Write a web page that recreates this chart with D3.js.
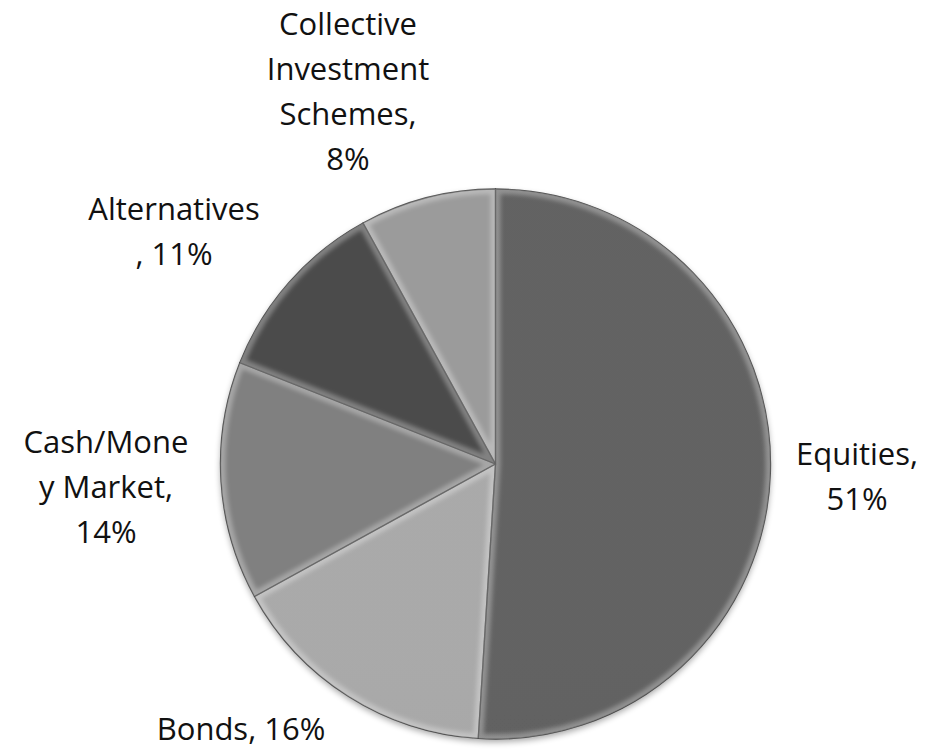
<!DOCTYPE html>
<html>
<head>
<meta charset="utf-8">
<script src="https://cdn.jsdelivr.net/npm/d3@7"></script>
<style>
  html, body { margin: 0; padding: 0; background: #fff; }
  svg { display: block; }
  .lbl { font-family: "Open Sans", "Noto Sans", sans-serif; font-size: 31px; fill: #111; }
</style>
</head>
<body>
<div id="chart"></div>
<script>
// data
const categories = ["Equities", "Bonds", "Cash/Money Market", "Alternatives", "Collective Investment Schemes"];
const shares = [51, 16, 14, 11, 8];
const labelLines = [
  ["Equities,", "51%"],
  ["Bonds, 16%"],
  ["Cash/Mone", "y Market,", "14%"],
  ["Alternatives", ", 11%"],
  ["Collective", "Investment", "Schemes,", "8%"]
];

// layout
const W = 934, H = 752;
const cx = 495.5, cy = 464, r = 275;
const sliceColors = ["#5c5c5c", "#a6a6a6", "#7b7b7b", "#454545", "#979797"];
// label block anchor: [center x, first baseline]
const labelAnchor = [[857, 465], [241, 740], [106, 453], [174, 220], [348, 35]];
const lineH = 45;

const svg = d3.select("#chart").append("svg")
  .attr("width", W)
  .attr("height", H);

const defs = svg.append("defs");

// soft shadow under the pie
const shadow = defs.append("filter").attr("id", "shadow")
  .attr("x", "-10%").attr("y", "-10%").attr("width", "120%").attr("height", "125%");
shadow.append("feGaussianBlur").attr("in", "SourceAlpha").attr("stdDeviation", 3);
shadow.append("feOffset").attr("dx", 0).attr("dy", 3).attr("result", "off");
shadow.append("feComponentTransfer").append("feFuncA").attr("type", "linear").attr("slope", 0.35);
const merge = shadow.append("feMerge");
merge.append("feMergeNode");
merge.append("feMergeNode").attr("in", "SourceGraphic");

const blur = defs.append("filter").attr("id", "blur")
  .attr("x", "-5%").attr("y", "-5%").attr("width", "110%").attr("height", "110%");
blur.append("feGaussianBlur").attr("stdDeviation", 2.2);

// light top to darker bottom over the whole pie
const shade = defs.append("linearGradient").attr("id", "shade")
  .attr("gradientUnits", "userSpaceOnUse")
  .attr("x1", 0).attr("y1", cy - r).attr("x2", 0).attr("y2", cy + r);
shade.append("stop").attr("offset", 0).attr("stop-color", "#fff").attr("stop-opacity", 0.04);
shade.append("stop").attr("offset", 1).attr("stop-color", "#000").attr("stop-opacity", 0.08);

const pie = d3.pie().sort(null).value(d => d);
const arcs = pie(shares);
const arc = d3.arc().innerRadius(0).outerRadius(r);

const g = svg.append("g").attr("transform", `translate(${cx},${cy})`);

arcs.forEach((d, i) => {
  defs.append("clipPath").attr("id", "clip" + i)
    .append("path")
    .attr("transform", `translate(${cx},${cy})`)
    .attr("d", arc(d));
});

const pieG = g.append("g").attr("filter", "url(#shadow)");

pieG.selectAll("path.slice")
  .data(arcs)
  .join("path")
  .attr("class", "slice")
  .attr("d", arc)
  .attr("fill", (d, i) => sliceColors[i]);

pieG.append("circle")
  .attr("r", r)
  .attr("fill", "url(#shade)");

// bevel: light inner rim clipped to each slice
const bevel = svg.append("g");
arcs.forEach((d, i) => {
  bevel.append("g")
    .attr("clip-path", `url(#clip${i})`)
    .append("path")
    .attr("transform", `translate(${cx},${cy})`)
    .attr("d", arc(d))
    .attr("fill", "none")
    .attr("stroke", "#fff")
    .attr("stroke-opacity", 0.3)
    .attr("stroke-width", 10)
    .attr("filter", "url(#blur)");
});

// dark slice edges
g.selectAll("path.edge")
  .data(arcs)
  .join("path")
  .attr("class", "edge")
  .attr("d", arc)
  .attr("fill", "none")
  .attr("stroke", "#2a2a2a")
  .attr("stroke-opacity", 0.8)
  .attr("stroke-width", 1.3)
  .attr("stroke-linejoin", "round");

// data labels
const labels = svg.selectAll("text.lbl")
  .data(labelLines)
  .join("text")
  .attr("class", "lbl")
  .attr("text-anchor", "middle")
  .attr("x", (d, i) => labelAnchor[i][0])
  .attr("y", (d, i) => labelAnchor[i][1]);

labels.each(function (lines, i) {
  d3.select(this).selectAll("tspan")
    .data(lines)
    .join("tspan")
    .attr("x", labelAnchor[i][0])
    .attr("y", (l, j) => labelAnchor[i][1] + j * lineH)
    .text(l => l);
});
</script>
</body>
</html>
